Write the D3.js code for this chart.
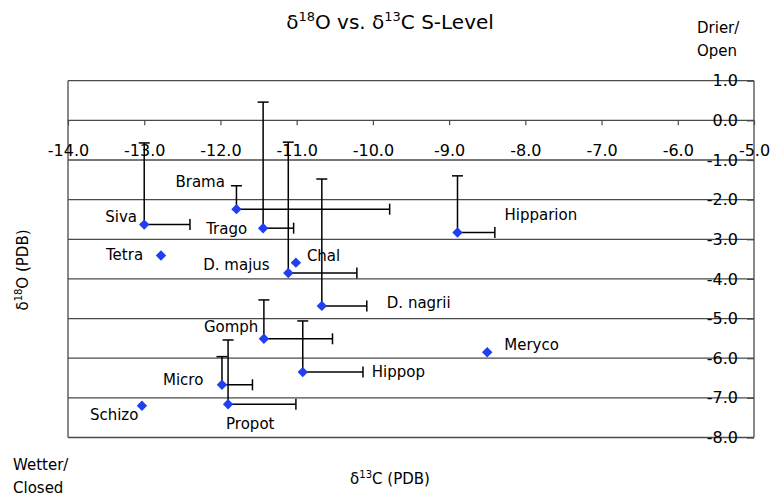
<!DOCTYPE html>
<html>
<head>
<meta charset="utf-8">
<script src="https://cdn.jsdelivr.net/npm/d3@7"></script>
<style>
  html, body { margin: 0; padding: 0; background: #fff; }
  svg { display: block; font-family: "DejaVu Sans", sans-serif; }
</style>
</head>
<body>
<svg id="chart" width="771" height="496"></svg>
<script>
// ---- Data ----
const taxa   = ["Siva","Brama","Trago","Tetra","D. majus","Chal","D. nagrii","Hipparion","Gomph","Meryco","Hippop","Micro","Schizo","Propot"];
const d13C   = [-13.00,-11.79,-11.44,-12.78,-11.11,-11.01,-10.67,-8.89,-11.43,-8.50,-10.92,-11.98,-13.03,-11.90];
const d18O   = [-2.63,-2.24,-2.72,-3.41,-3.85,-3.59,-4.68,-2.83,-5.51,-5.85,-6.35,-6.67,-7.20,-7.16];
// upper ends of the error bars (null = no bar)
const d13CHigh = [-12.40,-9.78,-11.04,null,-10.21,null,-10.08,-8.40,-10.53,null,-10.13,-11.58,null,-11.01];
const d18OHigh = [-0.57,-1.65,0.46,null,-0.55,null,-1.48,-1.40,-4.53,null,-5.06,-5.96,null,-5.54];
const xTicks = [-14,-13,-12,-11,-10,-9,-8,-7,-6,-5];
const yTicks = [1,0,-1,-2,-3,-4,-5,-6,-7,-8];
// label placement (pixel offsets from the marker)
const labelDx = [-39,-61,-57,-55,-85,11,65,47,-60,17,69,-59,-52,-2];
const labelDy = [-3,-22,6,4,-3,-2,2,-13,-7,-2,5,0,14,25];

const svg = d3.select("#chart");
const x = d3.scaleLinear().domain([-14,-5]).range([68,754]);
const y = d3.scaleLinear().domain([-8,1]).range([437.5,80.7]);
const fmt = v => v.toFixed(1);
const gridColor = "#4a4a4a";

// horizontal grid lines
svg.append("g").selectAll("line").data(yTicks).join("line")
  .attr("x1", x(-14)).attr("x2", x(-5))
  .attr("y1", d => y(d)).attr("y2", d => y(d))
  .attr("stroke", gridColor).attr("stroke-width", 1.3);
// left & right border
svg.append("g").selectAll("line").data([-14,-5]).join("line")
  .attr("x1", d => x(d)).attr("x2", d => x(d))
  .attr("y1", y(1)).attr("y2", y(-8))
  .attr("stroke", gridColor).attr("stroke-width", 1.3);

// x axis crossing at y = 0
const xAxis = svg.append("g")
  .attr("transform", `translate(0,${y(0)})`)
  .call(d3.axisBottom(x).tickValues(xTicks).tickFormat(fmt).tickSize(5).tickPadding(19));
xAxis.select(".domain").remove();
xAxis.selectAll(".tick line").attr("stroke", gridColor).attr("stroke-width", 1.2);
xAxis.selectAll("text").attr("font-size", 16).attr("fill", "#000")
  .attr("font-family", "DejaVu Sans, sans-serif");

// y axis on the right edge, labels drawn inward
const yAxis = svg.append("g")
  .attr("transform", `translate(${x(-5)},0)`)
  .call(d3.axisLeft(y).tickValues(yTicks).tickFormat(fmt).tickSize(7).tickPadding(9));
yAxis.select(".domain").remove();
yAxis.selectAll(".tick line").attr("stroke", gridColor).attr("stroke-width", 1.2);
yAxis.selectAll("text").attr("font-size", 16).attr("fill", "#000")
  .attr("font-family", "DejaVu Sans, sans-serif");

// error bars
const idx = d3.range(taxa.length);
const cap = 5.5;
const eb = svg.append("g").attr("stroke", "#000").attr("stroke-width", 1.5).attr("fill", "none");
idx.filter(i => d18OHigh[i] !== null).forEach(i => {
  const px = x(d13C[i]), py = y(d18O[i]), pt = y(d18OHigh[i]);
  eb.append("line").attr("x1", px).attr("x2", px).attr("y1", py).attr("y2", pt);
  eb.append("line").attr("x1", px - cap).attr("x2", px + cap).attr("y1", pt).attr("y2", pt);
});
idx.filter(i => d13CHigh[i] !== null).forEach(i => {
  const px = x(d13C[i]), py = y(d18O[i]), pr = x(d13CHigh[i]);
  eb.append("line").attr("x1", px).attr("x2", pr).attr("y1", py).attr("y2", py);
  eb.append("line").attr("x1", pr).attr("x2", pr).attr("y1", py - cap).attr("y2", py + cap);
});

// markers
const r = 5.2;
svg.append("g").selectAll("path").data(idx).join("path")
  .attr("d", i => {
    const px = x(d13C[i]), py = y(d18O[i]);
    return `M${px},${py - r}L${px + r},${py}L${px},${py + r}L${px - r},${py}Z`;
  })
  .attr("fill", "#1f3ff0");

// point labels
svg.append("g").selectAll("text").data(idx).join("text")
  .attr("x", i => x(d13C[i]) + labelDx[i])
  .attr("y", i => y(d18O[i]) + labelDy[i])
  .attr("font-size", 15).attr("fill", "#000")
  .text(i => taxa[i]);

// title
const title = svg.append("text").attr("x", 390).attr("y", 29)
  .attr("text-anchor", "middle").attr("font-size", 20).attr("fill", "#000");
title.append("tspan").text("δ");
title.append("tspan").attr("font-size", 13).attr("dy", -8).text("18");
title.append("tspan").attr("dy", 8).text("O vs. δ");
title.append("tspan").attr("font-size", 13).attr("dy", -8).text("13");
title.append("tspan").attr("dy", 8).text("C S-Level");

// corner notes
svg.append("text").attr("x", 697).attr("y", 33).attr("font-size", 15).text("Drier/");
svg.append("text").attr("x", 697).attr("y", 56).attr("font-size", 15).text("Open");
svg.append("text").attr("x", 13).attr("y", 470).attr("font-size", 15).text("Wetter/");
svg.append("text").attr("x", 13).attr("y", 493).attr("font-size", 15).text("Closed");

// x axis title
const xt = svg.append("text").attr("x", 390).attr("y", 484)
  .attr("text-anchor", "middle").attr("font-size", 15);
xt.append("tspan").text("δ");
xt.append("tspan").attr("font-size", 10).attr("dy", -6).text("13");
xt.append("tspan").attr("dy", 6).text("C (PDB)");

// y axis title
const yt = svg.append("text").attr("transform", "translate(28,270) rotate(-90)")
  .attr("text-anchor", "middle").attr("font-size", 15);
yt.append("tspan").text("δ");
yt.append("tspan").attr("font-size", 10).attr("dy", -6).text("18");
yt.append("tspan").attr("dy", 6).text("O (PDB)");
</script>
</body>
</html>
